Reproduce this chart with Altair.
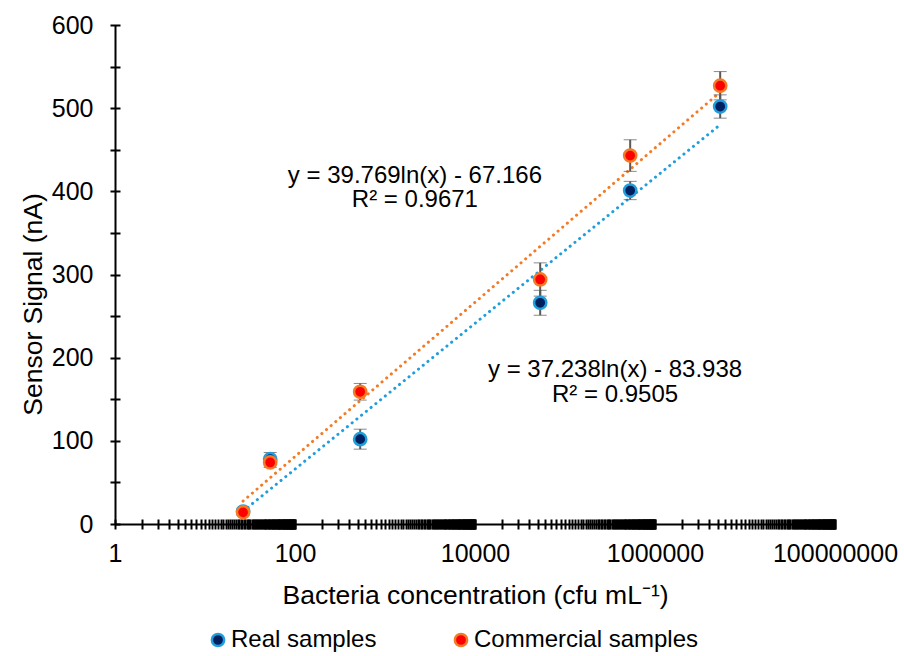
import altair as alt
import pandas as pd

series_names = ["Real samples", "Commercial samples"]
conc = [26.5, 53, 530, 53000, 530000, 5300000]
real_signal = [15, 78, 102, 266, 401, 502]
real_err = [4, 8, 12, 15, 11, 14]
comm_signal = [14, 74, 159, 294, 443, 527]
comm_err = [3, 6, 10, 20, 19, 17]

major_ticks = [1, 100, 10000, 1000000, 100000000]
minor_ticks = [k * 10 ** d for d in (0, 2, 4, 6) for k in range(1, 100)] + [100000000]
y_major = [0, 100, 200, 300, 400, 500, 600]
y_minor = list(range(0, 601, 50))

eq_text = ["y = 39.769ln(x) - 67.166", "R² = 0.9671", "y = 37.238ln(x) - 83.938", "R² = 0.9505"]
eq_x = [2150, 2150, 360000, 360000]
eq_y = [419, 389, 185, 155]

FONT = "Liberation Sans"
fill_range = ["#002060", "#FF0000"]
stroke_range = ["#1F9EDB", "#F47B25"]

rows = []
for s, vals, errs in ((series_names[0], real_signal, real_err), (series_names[1], comm_signal, comm_err)):
    for x, v, e in zip(conc, vals, errs):
        rows.append({"series": s, "conc": x, "signal": v, "lo": v - e, "hi": v + e})
df = pd.DataFrame(rows)
ann = pd.DataFrame({"x": eq_x, "y": eq_y, "t": eq_text})

xscale = alt.Scale(type="log", domain=[1, 100000000], nice=False)
yscale = alt.Scale(domain=[0, 600], nice=False)

x_axis_main = alt.Axis(values=major_ticks, format="d", orient="bottom", grid=False, ticks=False,
                       domainColor="black", domainWidth=2, labelFont=FONT, labelFontSize=25,
                       labelColor="black", labelPadding=17, labelOverlap=False, labelFlush=False,
                       title="Bacteria concentration (cfu mL⁻¹)", titleFont=FONT, titleFontSize=26.5,
                       titleFontWeight="normal", titleColor="black", titleY=58, titleBaseline="top")
y_axis_main = alt.Axis(values=y_major, orient="left", grid=False, ticks=False,
                       domainColor="black", domainWidth=2, labelFont=FONT, labelFontSize=25,
                       labelColor="black", labelPadding=22, labelFlush=False,
                       title="Sensor Signal (nA)", titleFont=FONT, titleFontSize=26.5,
                       titleFontWeight="normal", titleColor="black", titleX=-82, titleY=279,
                       titleAlign="center", titleBaseline="middle", titleAngle=-90)
x_axis_ticks = alt.Axis(values=minor_ticks, orient="bottom", grid=False, domain=False, labels=False,
                        ticks=True, tickSize=10, tickWidth=2, tickColor="black", offset=-5, title=None)
y_axis_ticks = alt.Axis(values=y_minor, orient="left", grid=False, domain=False, labels=False,
                        ticks=True, tickSize=10, tickWidth=2, tickColor="black", offset=-5, title=None)

color_fill = alt.Scale(domain=series_names, range=fill_range)
color_stroke = alt.Scale(domain=series_names, range=stroke_range)

legend = alt.Legend(title=None, orient="none", legendX=91, legendY=603,
                    direction="horizontal", symbolType="circle", symbolSize=150,
                    symbolStrokeWidth=2.5, labelFont=FONT, labelFontSize=24,
                    labelColor="black", labelOffset=1, columnPadding=72, labelLimit=400,
                    symbolOpacity=1)

base = alt.Chart(df)

lines = base.transform_regression("conc", "signal", groupby=["series"], method="log").mark_line(
    strokeDash=[0.1, 6], strokeCap="round", strokeWidth=3
).encode(
    x=alt.X("conc:Q", scale=xscale, axis=x_axis_ticks),
    y=alt.Y("signal:Q", scale=yscale, axis=y_axis_ticks),
    stroke=alt.Stroke("series:N", scale=color_stroke, legend=legend),
)

errbars = base.mark_errorbar(ticks=alt.MarkConfig(size=13, color="#595959", strokeWidth=2),
                             rule=alt.MarkConfig(color="#595959", strokeWidth=2)).encode(
    x=alt.X("conc:Q", scale=xscale, axis=None),
    y=alt.Y("lo:Q", scale=yscale, axis=None, title=None),
    y2="hi:Q",
)

points = base.mark_point(shape="circle", filled=False, size=150, strokeWidth=2.5, opacity=1).encode(
    x=alt.X("conc:Q", scale=xscale, axis=x_axis_main),
    y=alt.Y("signal:Q", scale=yscale, axis=y_axis_main),
    fill=alt.Fill("series:N", scale=color_fill, legend=legend),
    stroke=alt.Stroke("series:N", scale=color_stroke, legend=legend),
)

texts = alt.Chart(ann).mark_text(font=FONT, fontSize=24, color="black", align="center",
                                 baseline="middle").encode(
    x=alt.X("x:Q", scale=xscale, axis=None),
    y=alt.Y("y:Q", scale=yscale, axis=None),
    text="t:N",
)

chart = alt.layer(lines, errbars, points, texts).resolve_axis(x="independent", y="independent").properties(
    width=720, height=499,
    autosize=alt.AutoSizeParams(type="none"),
    padding={"left": 115, "top": 25, "right": 69, "bottom": 132},
    background="white",
).configure_view(strokeWidth=0)

chart.save("out.html", embed_options={"renderer": "svg", "actions": False})
